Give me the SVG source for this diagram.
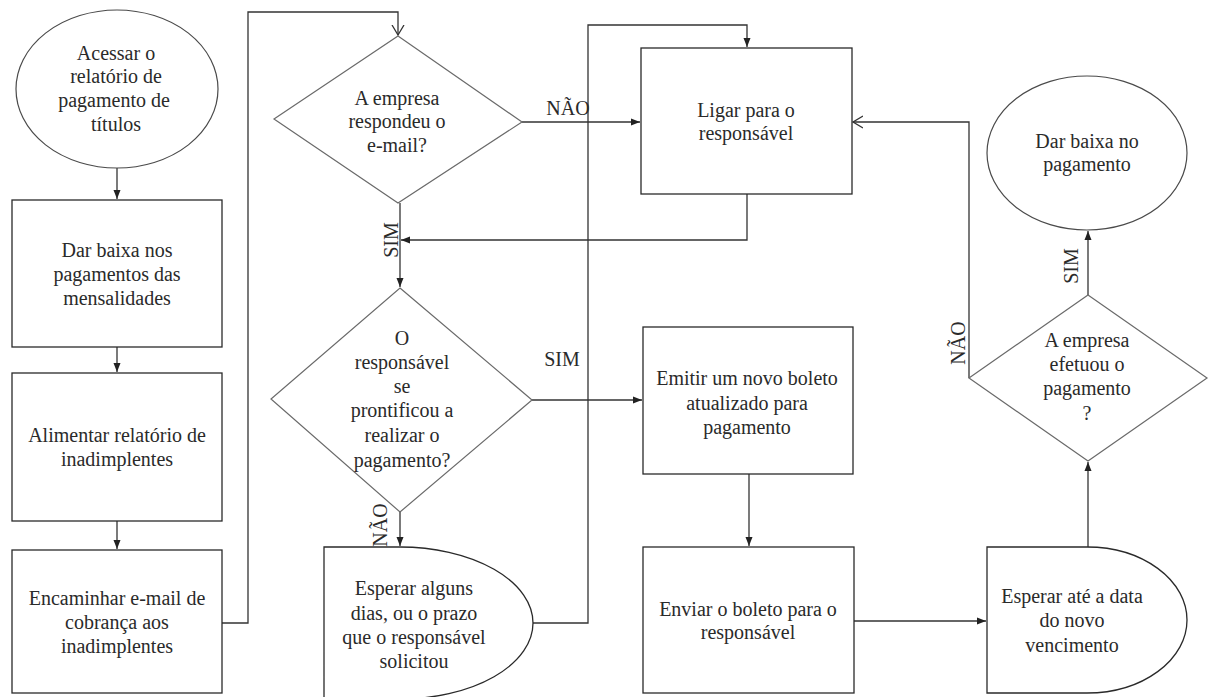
<svg xmlns="http://www.w3.org/2000/svg" width="1210" height="697" viewBox="0 0 1210 697">
<style>
.box{fill:#fff;stroke:#2a2a2a;stroke-width:1.3}
.dia{fill:#fff;stroke:#6a6a6a;stroke-width:1.2}
.ell{fill:#fff;stroke:#4a4a4a;stroke-width:1.2}
.t{font-family:'Liberation Serif','DejaVu Serif',serif;font-size:20px;fill:#2a2a2a;text-anchor:middle}
.c{fill:none;stroke:#333;stroke-width:1.3}
</style>
<defs>
<marker id="af" markerUnits="userSpaceOnUse" markerWidth="10" markerHeight="8" refX="9" refY="4" orient="auto"><path d="M0,0.5 L9,4 L0,7.5 z" fill="#222"/></marker>
<marker id="ao" markerUnits="userSpaceOnUse" markerWidth="12" markerHeight="14" refX="10" refY="7" orient="auto"><path d="M0,1 L10,7 L0,13" fill="none" stroke="#333" stroke-width="1.3"/></marker>
</defs>
<rect width="1210" height="697" fill="#fff"/>

<g id="connectors">
<path class="c" d="M117,168 V199" marker-end="url(#af)"/>
<path class="c" d="M117,347 V372" marker-end="url(#af)"/>
<path class="c" d="M117,521 V549" marker-end="url(#af)"/>
<path class="c" d="M222,623 H248 V12 H398 V35" marker-end="url(#ao)"/>
<path class="c" d="M522,122 H640" marker-end="url(#af)"/>
<path class="c" d="M747,194 V240 H401" marker-end="url(#af)"/>
<path class="c" d="M400,203 V287" marker-end="url(#af)"/>
<path class="c" d="M532,400 H642" marker-end="url(#af)"/>
<path class="c" d="M400,512 V546" marker-end="url(#af)"/>
<path class="c" d="M533,623 H588 V25 H747 V47" marker-end="url(#af)"/>
<path class="c" d="M749,474 V546" marker-end="url(#af)"/>
<path class="c" d="M854,621 H986" marker-end="url(#af)"/>
<path class="c" d="M1088,547 V462" marker-end="url(#af)"/>
<path class="c" d="M1088,295 V231" marker-end="url(#af)"/>
<path class="c" d="M969,378 V122 H853" marker-end="url(#ao)"/>
<text class="t" x="568" y="115">NÃO</text>
<text class="t" transform="translate(398,240) rotate(-90)">SIM</text>
<text class="t" x="562" y="366">SIM</text>
<text class="t" transform="translate(387,525) rotate(-90)">NÃO</text>
<text class="t" transform="translate(1078,266) rotate(-90)">SIM</text>
<text class="t" transform="translate(965,343) rotate(-90)">NÃO</text>
</g>

<g id="n1">
<ellipse class="ell" cx="117" cy="89" rx="101" ry="79"/>
<text class="t" x="116" y="60">Acessar o</text>
<text class="t" x="116" y="83">relatório de</text>
<text class="t" x="114" y="107">pagamento de</text>
<text class="t" x="116" y="131">títulos</text>
</g>

<g id="n2">
<rect class="box" x="12" y="200" width="210" height="147"/>
<text class="t" x="117" y="257">Dar baixa nos</text>
<text class="t" x="117" y="281">pagamentos das</text>
<text class="t" x="117" y="305">mensalidades</text>
</g>

<g id="n3">
<rect class="box" x="12" y="373" width="210" height="148"/>
<text class="t" x="117" y="442">Alimentar relatório de</text>
<text class="t" x="117" y="466">inadimplentes</text>
</g>

<g id="n4">
<rect class="box" x="12" y="550" width="210" height="143"/>
<text class="t" x="117" y="605">Encaminhar e-mail de</text>
<text class="t" x="117" y="629">cobrança aos</text>
<text class="t" x="117" y="653">inadimplentes</text>
</g>

<g id="n5">
<polygon class="dia" points="398,36 522,122 398,203 274,119"/>
<text class="t" x="397" y="105">A empresa</text>
<text class="t" x="397" y="128">respondeu o</text>
<text class="t" x="397" y="152">e-mail?</text>
</g>

<g id="n6">
<rect class="box" x="641" y="48" width="211" height="146"/>
<text class="t" x="746" y="117">Ligar para o</text>
<text class="t" x="746" y="140">responsável</text>
</g>

<g id="n7">
<polygon class="dia" points="400,288 532,400 400,512 271,399"/>
<text class="t" x="402" y="345">O</text>
<text class="t" x="402" y="369">responsável</text>
<text class="t" x="402" y="393">se</text>
<text class="t" x="402" y="417">prontificou a</text>
<text class="t" x="402" y="442">realizar o</text>
<text class="t" x="402" y="467">pagamento?</text>
</g>

<g id="n8">
<path class="box" d="M324,547 H400 A133,76 0 0 1 400,699 H324 Z"/>
<text class="t" x="414" y="595">Esperar alguns</text>
<text class="t" x="414" y="620">dias, ou o prazo</text>
<text class="t" x="414" y="644">que o responsável</text>
<text class="t" x="414" y="668">solicitou</text>
</g>

<g id="n9">
<rect class="box" x="643" y="327" width="210" height="147"/>
<text class="t" x="747" y="385">Emitir um novo boleto</text>
<text class="t" x="747" y="410">atualizado para</text>
<text class="t" x="747" y="434">pagamento</text>
</g>

<g id="n10">
<rect class="box" x="643" y="547" width="211" height="146"/>
<text class="t" x="748" y="616">Enviar o boleto para o</text>
<text class="t" x="748" y="639">responsável</text>
</g>

<g id="n11">
<path class="box" d="M987,547 H1087 A100,73 0 0 1 1087,693 H987 Z"/>
<text class="t" x="1072" y="603">Esperar até a data</text>
<text class="t" x="1072" y="627">do novo</text>
<text class="t" x="1072" y="652">vencimento</text>
</g>

<g id="n12">
<polygon class="dia" points="1088,295 1207,378 1088,461 969,378"/>
<text class="t" x="1087" y="347">A empresa</text>
<text class="t" x="1087" y="371">efetuou o</text>
<text class="t" x="1087" y="395">pagamento</text>
<text class="t" x="1087" y="420">?</text>
</g>

<g id="n13">
<ellipse class="ell" cx="1087" cy="153" rx="100" ry="77"/>
<text class="t" x="1087" y="148">Dar baixa no</text>
<text class="t" x="1087" y="171">pagamento</text>
</g>
</svg>
